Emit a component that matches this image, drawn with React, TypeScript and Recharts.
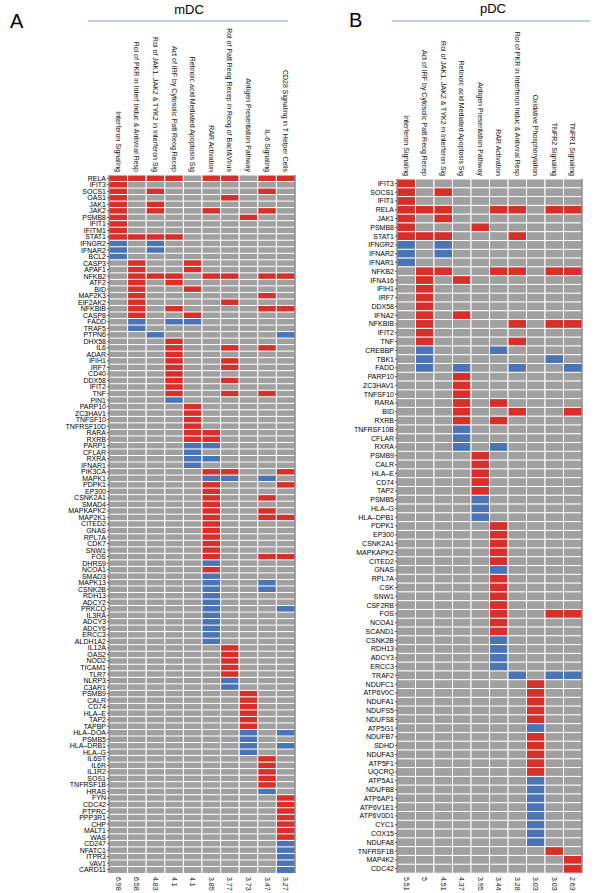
import React from 'react';
import { Bar, Cell, ComposedChart, Line, ReferenceLine, XAxis, YAxis } from 'recharts';

// r = up in pathway, b = down in pathway, . = not in pathway
const COLORS: Record<string, string> = { r: '#d7302b', b: '#4a74b4', '.': '#a0a0a0' };
const FONT = '"Liberation Sans", Arial, sans-serif';

const mdcPathways = [
  'Interferon Signaling',
  'Rol of PKR in Interf Induc & Antiviral Resp',
  'Rol of JAK1, JAK2 & TYK2 in Interferon Sig',
  'Act of IRF by Cytosolic Patt Reog Recep',
  'Retinoic acid Mediated Apoptosis Sig',
  'RAR Activation',
  'Rol of Patt Reog Recep in Reog of Bact&Virus',
  'Antigen Presentation Pathway',
  'IL-6 Signaling',
  'CD28 Signaling in T Helper Cells',
];
const mdcLogP = ['6.98', '6.58', '4.83', '4.1', '4.1', '3.85', '3.77', '3.73', '3.47', '3.27'];

const mdcGenes = [
  'RELA', 'IFIT3', 'SOCS1', 'OAS1', 'JAK1', 'JAK2', 'PSMB8', 'IFIT1', 'IFITM1', 'STAT1',
  'IFNGR2', 'IFNAR2', 'BCL2', 'CASP3', 'APAF1', 'NFKB2', 'ATF2', 'BID', 'MAP2K3', 'EIF2AK2',
  'NFKBIB', 'CASP8', 'FADD', 'TRAF5', 'PTPN6', 'DHX58', 'IL6', 'ADAR', 'IFIH1', 'IRF7',
  'CD40', 'DDX58', 'IFIT2', 'TNF', 'PIN1', 'PARP10', 'ZC3HAV1', 'TNFSF10', 'TNFRSF10D', 'RARA',
  'RXRB', 'PARP1', 'CFLAR', 'RXRA', 'IFNAR1', 'PIK3CA', 'MAPK1', 'PDPK1', 'EP300', 'CSNK2A1',
  'SMAD4', 'MAPKAPK2', 'MAP2K1', 'CITED2', 'GNAS', 'RPL7A', 'CDK7', 'SNW1', 'FOS', 'DHRS9',
  'NCOA1', 'SMAD3', 'MAPK13', 'CSNK2B', 'RDH13', 'ADCY2', 'PRKCQ', 'IL3RA', 'ADCY3', 'ADCY6',
  'ERCC3', 'ALDH1A2', 'IL12A', 'OAS2', 'NOD2', 'TICAM1', 'TLR7', 'NLRP3', 'C3AR1', 'PSMB9',
  'CALR', 'CD74', 'HLA\u2013E', 'TAP2', 'TAPBP', 'HLA\u2013DOA', 'PSMB5', 'HLA\u2013DRB1', 'HLA\u2013G', 'IL6ST',
  'IL6R', 'IL1R2', 'SOS1', 'TNFRSF1B', 'HRAS', 'FYN', 'CDC42', 'PTPRC', 'PPP3R1', 'CHP',
  'MALT1', 'WAS', 'CD247', 'NFATC1', 'ITPR3', 'VAV1', 'CARD11',
];
const mdcCells = [
  'rrrr.rr.rr', 'r.........', 'r.r.....r.', 'r.....r...', 'r.r.......', 'r.r..r..r.', 'r......r..', 'r.........', 'r.........', 'rrrr......',
  'b.b.......', 'b.b.......', 'b.........', '.r..r.....', '.r..r.....', '.rrr.rr.rr', '.r.r......', '.r..r.....', '.r......r.', '.r....r...',
  '.r.r....rr', '.r..r.....', '.b.bb.....', '.b........', '..b......b', '...r......', '...r..r.r.', '...r......', '...r..r...', '...r..r...',
  '...r......', '...r..r...', '...r......', '...r..r.r.', '...b......', '....r.....', '....r.....', '....r.....', '....r.....', '....rr....',
  '....rr....', '....bb....', '....b.....', '....bb....', '....b.....', '.....rr..r', '.....bb.b.', '.....r...r', '.....r....', '.....r..r.',
  '.....r....', '.....r..r.', '.....r..rr', '.....r....', '.....r....', '.....r....', '.....r....', '.....r....', '.....r..rr', '.....b....',
  '.....r....', '.....b....', '.....b..b.', '.....b..b.', '.....b....', '.....b....', '.....b...b', '.....b....', '.....b....', '.....b....',
  '.....b....', '.....b....', '......r...', '......r...', '......r...', '......r...', '......r...', '......b...', '......b...', '.......r..',
  '.......r..', '.......r..', '.......r..', '.......r..', '.......r..', '.......b.b', '.......b..', '.......b.b', '.......b..', '........r.',
  '........r.', '........r.', '........r.', '........r.', '........b.', '.........r', '.........r', '.........r', '.........r', '.........r',
  '.........r', '.........r', '.........b', '.........b', '.........b', '.........b', '.........b',
];

const pdcPathways = [
  'Interferon Signaling',
  'Act of IRF by Cytosolic Patt Reog Recep',
  'Rol of JAK1, JAK2 & TYK2 in Interferon Sig',
  'Retinoic acid Mediated Apoptosis Sig',
  'Antigen Presentation Pathway',
  'RAR Activation',
  'Rol of PKR in Interferon Induc & Antiviral Resp',
  'Oxidative Phosphorylation',
  'TNFR2 Signaling',
  'TNFR1 Signaling',
];
const pdcLogP = ['5.51', '5', '4.51', '4.37', '3.95', '3.44', '3.28', '3.03', '3.03', '2.63'];

const pdcGenes = [
  'IFIT3', 'SOCS1', 'IFIT1', 'RELA', 'JAK1', 'PSMB8', 'STAT1', 'IFNGR2', 'IFNAR2', 'IFNAR1',
  'NFKB2', 'IFNA16', 'IFIH1', 'IRF7', 'DDX58', 'IFNA2', 'NFKBIB', 'IFIT2', 'TNF', 'CREBBP',
  'TBK1', 'FADD', 'PARP10', 'ZC3HAV1', 'TNFSF10', 'RARA', 'BID', 'RXRB', 'TNFRSF10B', 'CFLAR',
  'RXRA', 'PSMB9', 'CALR', 'HLA\u2013E', 'CD74', 'TAP2', 'PSMB5', 'HLA\u2013G', 'HLA\u2013DPB1', 'PDPK1',
  'EP300', 'CSNK2A1', 'MAPKAPK2', 'CITED2', 'GNAS', 'RPL7A', 'CSK', 'SNW1', 'CSF2RB', 'FOS',
  'NCOA1', 'SCAND1', 'CSNK2B', 'RDH13', 'ADCY3', 'ERCC3', 'TRAF2', 'NDUFC1', 'ATP6V0C', 'NDUFA1',
  'NDUFS5', 'NDUFS8', 'ATP5G1', 'NDUFB7', 'SDHD', 'NDUFA3', 'ATP5F1', 'UQCRQ', 'ATP5A1', 'NDUFB8',
  'ATP6AP1', 'ATP6V1E1', 'ATP6V0D1', 'CYC1', 'COX15', 'NDUFA8', 'TNFRSF1B', 'MAP4K2', 'CDC42',
];
const pdcCells = [
  'r.........', 'r.r.......', 'r.........', 'rrr..rr.rr', 'r.r.......', 'r...r.....', 'rrr...r...', 'b.b.......', 'b.b.......', 'b.........',
  '.rr..rr.rr', '.r.r......', '.r........', '.r........', '.r........', '.r.r......', '.r....r.rr', '.r........', '.r....r...', '.b...b....',
  '.b......b.', '.b.b..b..b', '...r......', '...r......', '...r......', '...r.r....', '...r..r..r', '...r.r....', '...b......', '...b......',
  '...b.b....', '....r.....', '....r.....', '....r.....', '....r.....', '....r.....', '....b.....', '....b.....', '....b.....', '.....r....',
  '.....r....', '.....r....', '.....r....', '.....r....', '.....b....', '.....r....', '.....r....', '.....r....', '.....r....', '.....r..rr',
  '.....r....', '.....r....', '.....b....', '.....b....', '.....b....', '.....b....', '......b.bb', '.......r..', '.......r..', '.......r..',
  '.......r..', '.......r..', '.......b..', '.......r..', '.......r..', '.......r..', '.......r..', '.......r..', '.......b..', '.......b..',
  '.......b..', '.......b..', '.......b..', '.......b..', '.......b..', '.......b..', '........r.', '.........r', '.........r',
];

const COLS = [0, 1, 2, 3, 4, 5, 6, 7, 8, 9];
const TICKS = COLS.map((c) => c + 0.5);

const buildRows = (genes: string[], cells: string[]) =>
  genes.map((gene, i) => {
    const row: any = { gene, code: cells[i], zero: 0 };
    COLS.forEach((c) => (row['c' + c] = 1));
    return row;
  });

const HeaderTick = ({ x, y, payload, labels }: any) => (
  <text x={x} y={y} transform={`rotate(90, ${x}, ${y})`} textAnchor="end" dominantBaseline="central"
    fontSize={7} fill="#111" fontFamily={FONT}>
    {labels[Math.floor(payload.value)]}
  </text>
);

const ValueTick = ({ x, y, payload, labels }: any) => (
  <text x={x} y={y} transform={`rotate(90, ${x}, ${y})`} textAnchor="start" dominantBaseline="central"
    fontSize={7} fill="#111" fontFamily={FONT}>
    {labels[Math.floor(payload.value)]}
  </text>
);

const Panel = ({ genes, cells, pathways, logp, width, top, left, right }: any) => {
  const data = buildRows(genes, cells);
  return (
    <ComposedChart width={width} height={893} data={data} layout="vertical" barCategoryGap={0} barGap={0}
      margin={{ top: 0, right, bottom: 0, left }} style={{ fontFamily: FONT }}>
      <XAxis xAxisId="top" orientation="top" type="number" domain={[0, 10]} ticks={TICKS} height={top}
        axisLine={false} tickLine={false} tickSize={0} tickMargin={3} interval={0}
        tick={<HeaderTick labels={pathways} />} />
      <XAxis xAxisId="bottom" orientation="bottom" type="number" domain={[0, 10]} ticks={TICKS} height={20}
        axisLine={false} tickLine={false} tickSize={0} tickMargin={4} interval={0}
        tick={<ValueTick labels={logp} />} />
      <YAxis type="category" dataKey="gene" width={60} interval={0} tickSize={2} tickMargin={1}
        axisLine={{ stroke: '#555' }} tickLine={{ stroke: '#555' }}
        tick={{ fontSize: 7, fill: '#000', fontFamily: FONT }} />
      {COLS.map((c) => (
        <Bar key={c} dataKey={'c' + c} stackId="s" xAxisId="top" isAnimationActive={false}
          stroke="#ffffff" strokeWidth={1}>
          {data.map((d, i) => (
            <Cell key={i} fill={COLORS[d.code[c]]} />
          ))}
        </Bar>
      ))}
      {/* invisible series so the bottom axis has an item bound to it */}
      <Line xAxisId="bottom" dataKey="zero" stroke="none" dot={false} activeDot={false}
        isAnimationActive={false} legendType="none" />
      <ReferenceLine x={10} xAxisId="top" stroke="#555" strokeWidth={1} />
    </ComposedChart>
  );
};

export default function App() {
  return (
    <div style={{ position: 'absolute', left: 0, top: 0, width: 594, height: 893, background: '#fff' }}>
      <div style={{ position: 'absolute', left: 0, top: 0 }}>
        <Panel genes={mdcGenes} cells={mdcCells} pathways={mdcPathways} logp={mdcLogP}
          width={300} top={175} left={49} right={5} />
      </div>
      <div style={{ position: 'absolute', left: 300, top: 0 }}>
        <Panel genes={pdcGenes} cells={pdcCells} pathways={pdcPathways} logp={pdcLogP}
          width={294} top={179} left={37} right={12} />
      </div>
      <svg width={594} height={60} style={{ position: 'absolute', left: 0, top: 0, pointerEvents: 'none' }}>
        <g fontFamily={FONT} fill="#000">
          <text x={10} y={28} fontSize={20}>A</text>
          <text x={189} y={14} fontSize={13} textAnchor="middle">mDC</text>
          <text x={349} y={27} fontSize={20}>B</text>
          <text x={493} y={13} fontSize={13} textAnchor="middle">pDC</text>
        </g>
        <line x1={88} y1={21} x2={288} y2={21} stroke="#7b9bc9" strokeWidth={1} />
        <line x1={392} y1={21} x2={590} y2={21} stroke="#7b9bc9" strokeWidth={1} />
      </svg>
    </div>
  );
}
